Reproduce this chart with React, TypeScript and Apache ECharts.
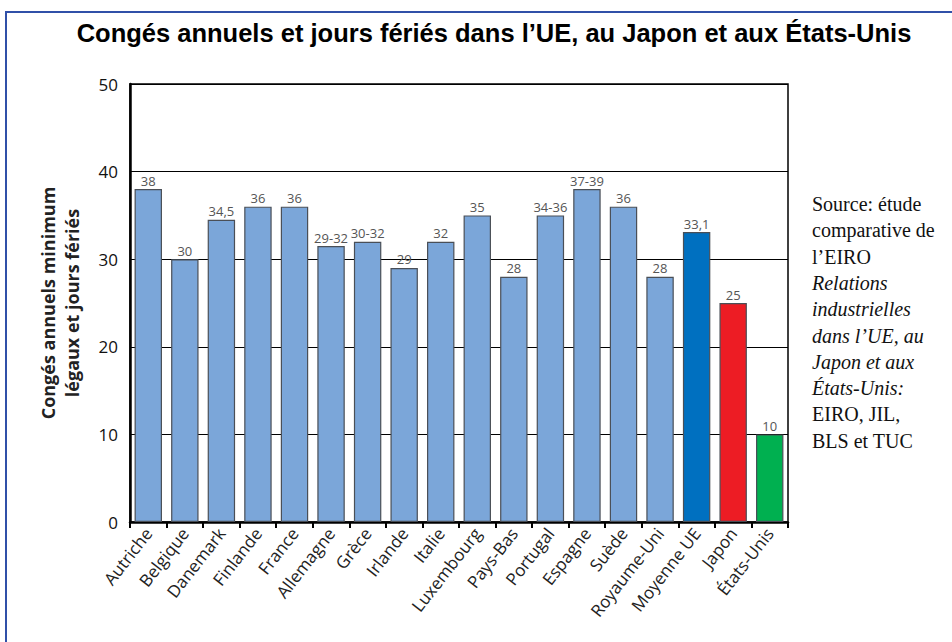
import React, { useEffect, useRef } from "react";
import * as echarts from "echarts";

const categories = [
  "Autriche", "Belgique", "Danemark", "Finlande", "France", "Allemagne", "Grèce",
  "Irlande", "Italie", "Luxembourg", "Pays-Bas", "Portugal", "Espagne", "Suède",
  "Royaume-Uni", "Moyenne UE", "Japon", "États-Unis",
];
const values = [38, 30, 34.5, 36, 36, 31.5, 32, 29, 32, 35, 28, 35, 38, 36, 28, 33.1, 25, 10];
const valueLabels = [
  "38", "30", "34,5", "36", "36", "29-32", "30-32", "29", "32", "35", "28", "34-36",
  "37-39", "36", "28", "33,1", "25", "10",
];
const barColors = [
  "#7ba6d9", "#7ba6d9", "#7ba6d9", "#7ba6d9", "#7ba6d9", "#7ba6d9", "#7ba6d9",
  "#7ba6d9", "#7ba6d9", "#7ba6d9", "#7ba6d9", "#7ba6d9", "#7ba6d9", "#7ba6d9",
  "#7ba6d9", "#0070c0", "#ed1c24", "#00b050",
];
const yTicks = { min: 0, max: 50, interval: 10 };

const title = "Congés annuels et jours fériés dans l’UE, au Japon et aux États-Unis";
const yAxisName = "Congés annuels minimum\nlégaux et jours fériés";
const sourceLines: { text: string; italic: boolean }[] = [
  { text: "Source: étude", italic: false },
  { text: "comparative de", italic: false },
  { text: "l’EIRO", italic: false },
  { text: "Relations", italic: true },
  { text: "industrielles", italic: true },
  { text: "dans l’UE, au", italic: true },
  { text: "Japon et aux", italic: true },
  { text: "États-Unis:", italic: true },
  { text: "EIRO, JIL,", italic: false },
  { text: "BLS et TUC", italic: false },
];

export default function App() {
  const ref = useRef<HTMLDivElement>(null);
  useEffect(() => {
    if (!ref.current) return;
    const chart = echarts.init(ref.current, null, { renderer: "svg" });
    const font = "'Open Sans', 'Noto Sans', sans-serif";
    chart.setOption({
      animation: false,
      backgroundColor: "#ffffff",
      title: {
        text: title,
        left: 489,
        textAlign: "center",
        top: 15,
        textStyle: {
          fontFamily: "'Liberation Sans', Arial, sans-serif",
          fontWeight: "bold",
          fontSize: 25.5,
          color: "#000",
        },
      },
      grid: {
        left: 130,
        right: 164,
        top: 84,
        bottom: 120,
        show: true,
        borderColor: "#000",
        borderWidth: 1.5,
        containLabel: false,
      },
      xAxis: {
        type: "category",
        data: categories,
        boundaryGap: true,
        axisLine: { show: true, lineStyle: { color: "#000", width: 2.5 } },
        axisTick: { show: true, length: 6, lineStyle: { color: "#000", width: 2 } },
        axisLabel: {
          rotate: 52,
          interval: 0,
          margin: 8,
          fontSize: 17,
          color: "#222",
          fontFamily: font,
        },
      },
      yAxis: {
        type: "value",
        min: yTicks.min,
        max: yTicks.max,
        interval: yTicks.interval,
        name: yAxisName,
        nameLocation: "middle",
        nameRotate: 90,
        nameGap: 46,
        nameTextStyle: {
          fontFamily: font,
          fontWeight: "bold",
          fontSize: 18,
          color: "#222",
          lineHeight: 24,
        },
        axisLine: { show: true, lineStyle: { color: "#000", width: 2.5 } },
        axisTick: { show: false },
        axisLabel: {
          fontSize: 17,
          color: "#111",
          fontFamily: font,
          margin: 12,
        },
        splitLine: { show: true, lineStyle: { color: "#000", width: 1 } },
      },
      series: [
        {
          type: "bar",
          barCategoryGap: "25%",
          data: values.map((v, i) => ({
            value: v,
            itemStyle: { color: barColors[i], borderColor: "#4a4f57", borderWidth: 1.2 },
          })),
          label: {
            show: true,
            position: "top",
            distance: 2,
            fontSize: 13,
            color: "#555",
            fontFamily: font,
            formatter: (p: any) => valueLabels[p.dataIndex],
          },
        },
      ],
      graphic: [
        {
          type: "polyline",
          shape: { points: [[6, 642], [6, 12], [952, 12]] },
          style: { stroke: "#3050a8", lineWidth: 2, fill: "none" },
          silent: true,
        },
        ...sourceLines.map((l, i) => ({
          type: "text",
          left: 812,
          top: 194 + i * 26.3,
          style: {
            text: l.text,
            fontFamily: "'Liberation Serif', 'DejaVu Serif', serif",
            fontStyle: l.italic ? "italic" : "normal",
            fontSize: 20,
            fill: "#111",
          },
        })),
      ],
    });
    return () => chart.dispose();
  }, []);
  return (
    <div
      ref={ref}
      style={{ position: "fixed", left: 0, top: 0, width: 952, height: 642 }}
    />
  );
}
